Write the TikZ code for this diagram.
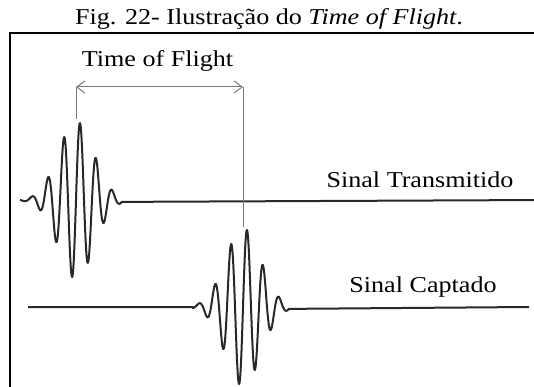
\documentclass[tikz,border=0pt]{standalone}
\usepackage{fontspec}
\setmainfont{Liberation Serif}
\newfontfamily\lblfont[FakeStretch=1.15]{Liberation Serif}
\usepackage{tikz}
\usetikzlibrary{arrows.meta,positioning,calc}
\usepackage{xcolor}
\definecolor{cDark}{RGB}{40,40,40}
\definecolor{cGray}{RGB}{120,120,120}
\tikzset{
  frameline/.style={line width=1.6pt,color=black},
  sigline/.style={line width=2pt,color=cDark,line join=round},
  tofline/.style={line width=1pt,color=cGray},
  tofarr/.style={tofline,{Straight Barb[length=8pt,width=12pt]}-{Straight Barb[length=8pt,width=12pt]}},
  lbl/.style={inner sep=0pt,anchor=base,font=\lblfont\fontsize{22.7}{26}\selectfont}
}
\begin{document}
\begin{tikzpicture}[x=1pt,y=-1pt]
  \useasboundingbox (0,0) rectangle (534,387);
  % caption and frame
  \node[lbl] (title) at (269,25) {Fig. 22- Ilustração do \textit{Time of Flight}.};
  \draw[frameline] (10,400) -- (10,33) -- (545,33);
  % transmitted pulse
  \draw[sigline] (20,200) -- plot[domain=20:122,samples=220,smooth]
    (\x,{200-79*exp(-((\x-76)/25)^2)*cos(22.5*(\x-80))}) -- (545,200);
  % received pulse
  \draw[sigline] (28,307) -- (193,307) -- plot[domain=193:289,samples=220,smooth]
    (\x,{307-79*exp(-((\x-243)/25)^2)*cos(22.5*(\x-247))}) -- (529,307);
  % time of flight marker
  \coordinate (txtop) at (76,87);
  \coordinate (txpk) at (76,119);
  \coordinate (rxtop) at (243,87);
  \coordinate (rxpk) at (243,227);
  \draw[tofline] (txtop) -- (txpk);
  \draw[tofline] (rxtop) -- (rxpk);
  \draw[tofarr] (txtop) -- (rxtop);
  \node[lbl] (tof) at (157.5,67) {Time of Flight};
  % signal labels
  \node[lbl] (tx) at (420,187) {Sinal Transmitido};
  \node[lbl] (rx) at (423,292) {Sinal Captado};
\end{tikzpicture}
\end{document}
